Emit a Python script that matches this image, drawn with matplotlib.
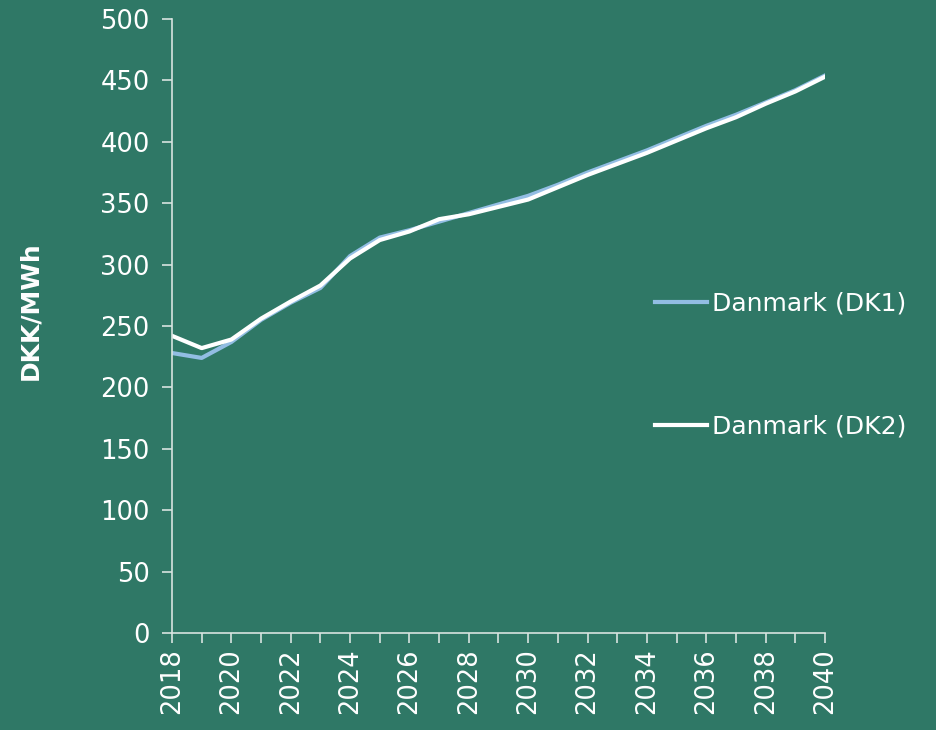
import matplotlib
matplotlib.use("Agg")
import matplotlib.pyplot as plt

years = list(range(2018, 2041))
dk1 = [228, 224, 237, 255, 269, 281, 307, 322, 328, 335, 342, 349, 356,
       365, 375, 384, 393, 403, 413, 422, 432, 442, 454]
dk2 = [242, 232, 239, 256, 270, 283, 305, 320, 327, 337, 341, 347, 353,
       363, 373, 382, 391, 401, 411, 420, 431, 441, 453]
labels = ["Danmark (DK1)", "Danmark (DK2)"]

bg = "#2f7866"
fg = "white"
axis_col = "#d8e4e0"

plt.rcParams["font.family"] = ["DejaVu Sans"]

fig = plt.figure(figsize=(9.37, 7.30), dpi=100, facecolor=bg)
ax = fig.add_axes([172 / 937, 1 - 633 / 730, (825 - 172) / 937, (633 - 19) / 730])
ax.set_facecolor(bg)

ax.plot(years, dk1, color="#92bde3", lw=3, label=labels[0])
ax.plot(years, dk2, color="white", lw=3, label=labels[1])

ax.set_xlim(2018, 2040)
ax.set_ylim(0, 500)
ax.set_yticks(range(0, 501, 50))
ax.set_xticks(years, minor=True)
ax.set_xticks(range(2018, 2041, 2))
ax.tick_params(axis="x", which="both", length=7, color=axis_col, width=1.2, pad=4)
ax.tick_params(axis="y", length=7, color=axis_col, width=1.2, pad=9)
ax.tick_params(labelsize=18.5, labelcolor=fg)
for lbl in ax.get_xticklabels():
    lbl.set_rotation(90)

for side in ["top", "right"]:
    ax.spines[side].set_visible(False)
for side in ["left", "bottom"]:
    ax.spines[side].set_color(axis_col)
    ax.spines[side].set_linewidth(1.2)

ax.set_ylabel("DKK/MWh", fontsize=18, fontweight="bold", color=fg)
ax.yaxis.set_label_coords(-0.199, 0.525)

leg = fig.legend(loc="upper left", bbox_to_anchor=(655 / 937, 1 - 292 / 730),
                 frameon=False, fontsize=18, labelcolor=fg,
                 borderpad=0, borderaxespad=0,
                 handlelength=2.1, handletextpad=0.2, labelspacing=3.95)

fig.savefig("out.png", dpi=100, facecolor=bg)
